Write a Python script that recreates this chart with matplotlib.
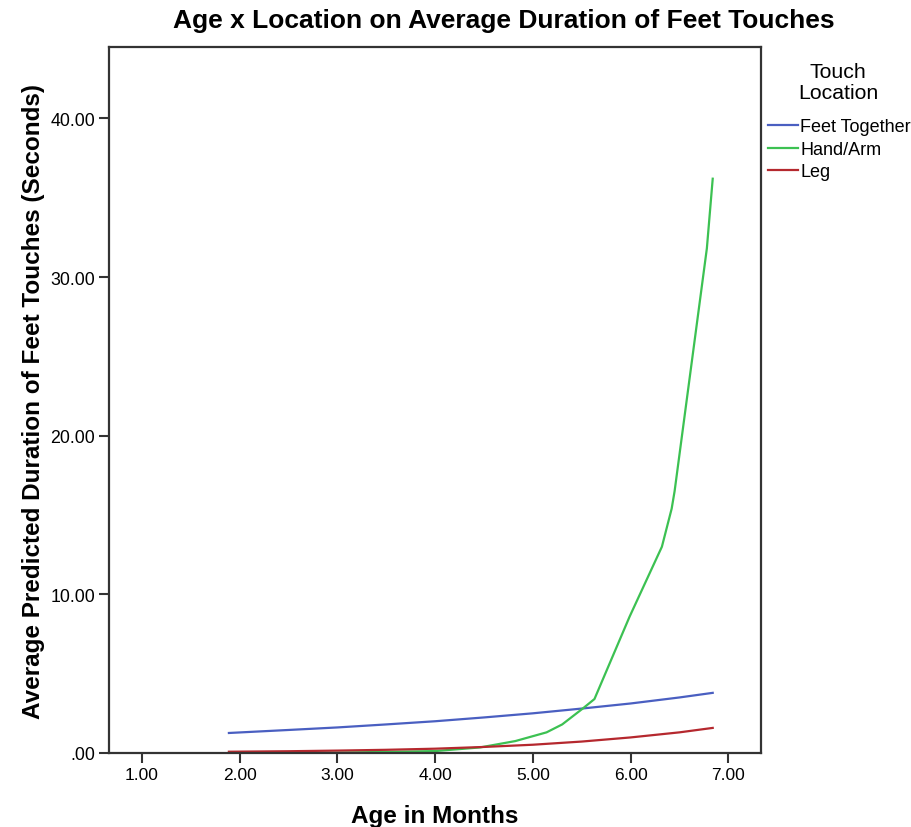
import matplotlib.pyplot as plt
from matplotlib.ticker import FixedLocator

# predicted average duration (seconds) by age in months, per touch location
age_feet = [1.89, 2.5, 3.0, 3.5, 4.0, 4.5, 5.0, 5.5, 6.0, 6.5, 6.84]
dur_feet = [1.26, 1.45, 1.61, 1.80, 2.00, 2.24, 2.50, 2.80, 3.12, 3.50, 3.79]

age_hand = [1.89, 3.0, 4.0, 4.46, 4.82, 5.14, 5.30, 5.51, 5.63, 5.99, 6.32, 6.42, 6.45, 6.78, 6.84]
dur_hand = [0.0, 0.02, 0.12, 0.35, 0.75, 1.3, 1.8, 2.8, 3.4, 8.6, 13.0, 15.4, 16.5, 31.8, 36.2]

age_leg = [1.89, 2.5, 3.0, 3.5, 4.0, 4.5, 5.0, 5.5, 6.0, 6.5, 6.84]
dur_leg = [0.08, 0.11, 0.15, 0.20, 0.27, 0.38, 0.52, 0.72, 0.98, 1.30, 1.58]

x_ticks = [1, 2, 3, 4, 5, 6, 7]
x_labels = ['1.00', '2.00', '3.00', '4.00', '5.00', '6.00', '7.00']
y_ticks = [0, 10, 20, 30, 40]
y_labels = ['.00', '10.00', '20.00', '30.00', '40.00']

series = [
    ('Feet Together', age_feet, dur_feet, '#4a5fc1'),
    ('Hand/Arm', age_hand, dur_hand, '#3cc152'),
    ('Leg', age_leg, dur_leg, '#b5282e'),
]

plt.rcParams['font.family'] = ['Liberation Sans', 'DejaVu Sans']
narrow = ['Liberation Sans Narrow', 'Liberation Sans', 'DejaVu Sans']

fig = plt.figure(figsize=(9.12, 8.28), dpi=100)
ax = fig.add_axes([0.1195, 0.0894, 0.7145, 0.8526])

for name, x, y, c in series:
    ax.plot(x, y, color=c, lw=1.6, label=name)

ax.set_xlim(0.663, 7.33)
ax.set_ylim(0, 44.5)
ax.xaxis.set_major_locator(FixedLocator(x_ticks))
ax.yaxis.set_major_locator(FixedLocator(y_ticks))
ax.set_xticklabels(x_labels, family=narrow, fontsize=12.5)
ax.set_yticklabels(y_labels, fontsize=12.8)
ax.tick_params(direction='out', length=7, width=1.5, color='#333333', pad=3)

for s in ax.spines.values():
    s.set_linewidth(1.6)
    s.set_color('#333333')

fig.text(0.552, 0.975, 'Age x Location on Average Duration of Feet Touches',
         ha='center', va='center', fontsize=19, fontweight='bold', family=narrow)
ax.set_xlabel('Age in Months', fontsize=17.5, fontweight='bold', family=narrow, labelpad=16)
ax.set_ylabel('Average Predicted Duration of Feet Touches (Seconds)', fontsize=17.5,
              fontweight='bold', labelpad=4)

fig.text(0.919, 0.900, 'Touch\nLocation', ha='center', va='center', fontsize=15.3,
         family=narrow, linespacing=1.1)
leg = ax.legend(loc='upper left', bbox_to_anchor=(1.0, 0.909), frameon=False,
                fontsize=13, handlelength=1.65, handletextpad=0.15, labelspacing=0.3,
                borderaxespad=0.2, borderpad=0.2)

fig.savefig('out.png', dpi=100)
